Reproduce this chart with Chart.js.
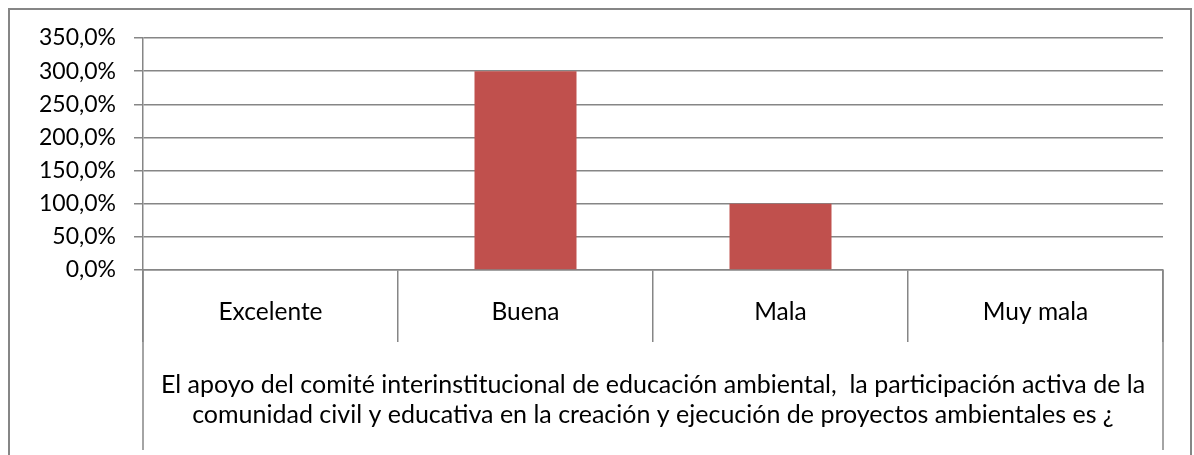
<!DOCTYPE html>
<html>
<head>
<meta charset="utf-8">
<script src="https://cdn.jsdelivr.net/npm/chart.js@4.4.1/dist/chart.umd.min.js"></script>
<style>
  html, body { margin: 0; padding: 0; background: #fff; }
  #wrap { width: 1194px; height: 455px; position: relative; }
</style>
</head>
<body>
<div id="wrap"><canvas id="grafico"></canvas></div>
<script>
// datos del gráfico
var categorias = ["Excelente", "Buena", "Mala", "Muy mala"];
var porcentajes = [0, 300, 100, 0];
var pregunta = [
    "El apoyo del comité interinstitucional de educación ambiental,  la participación activa de la",
    "comunidad civil y educativa en la creación y ejecución de proyectos ambientales es ¿"
];

var gris = "#868686";
var familia = "Lato, 'Open Sans', sans-serif";

// marco exterior y lineas largas de los extremos del eje
var marco = {
    id: "marco",
    afterDraw: function (chart) {
        var ctx = chart.ctx;
        var area = chart.chartArea;
        ctx.save();
        ctx.strokeStyle = gris;
        ctx.lineWidth = 2;
        ctx.strokeRect(9, 9, 1182, 500);
        ctx.lineWidth = 1.5;
        ctx.beginPath();
        ctx.moveTo(area.left, area.bottom);
        ctx.lineTo(area.left, 450);
        ctx.moveTo(area.right, area.bottom);
        ctx.lineTo(area.right, 450);
        ctx.stroke();
        ctx.restore();
    }
};

var ctx = document.getElementById("grafico").getContext("2d");
var chart = new Chart(ctx, {
    type: "bar",
    data: {
        labels: categorias,
        datasets: [
            {
                data: porcentajes,
                backgroundColor: "#C0504D",
                barPercentage: 0.8,
                categoryPercentage: 0.5
            }
        ]
    },
    options: {
        responsive: true,
        maintainAspectRatio: false,
        animation: false,
        layout: { padding: { top: 38, left: 0, right: 31, bottom: 0 } },
        plugins: {
            legend: { display: false },
            tooltip: { enabled: false }
        },
        scales: {
            x: {
                grid: {
                    offset: true,
                    drawOnChartArea: false,
                    drawTicks: true,
                    tickLength: 72,
                    color: gris,
                    lineWidth: 1.5
                },
                border: { display: true, color: gris, width: 1.5 },
                ticks: { color: "#000", font: { family: familia, size: 24.5 }, padding: -45, maxRotation: 0 },
                title: {
                    display: true,
                    text: pregunta,
                    color: "#000",
                    font: { family: familia, size: 25, lineHeight: 1.2 },
                    padding: { top: 0, bottom: 25 }
                },
                afterFit: function (scale) { scale.height = 185; }
            },
            y: {
                min: 0,
                max: 350,
                ticks: {
                    stepSize: 50,
                    color: "#000",
                    font: { family: familia, size: 23 },
                    padding: 18,
                    callback: function (v) { return v.toFixed(1).replace(".", ",") + "%"; }
                },
                grid: { color: gris, lineWidth: 1.5, tickLength: 9 },
                border: { display: true, color: gris, width: 1.5 },
                afterFit: function (scale) { scale.width = 143; }
            }
        }
    },
    plugins: [marco]
});
</script>
</body>
</html>
